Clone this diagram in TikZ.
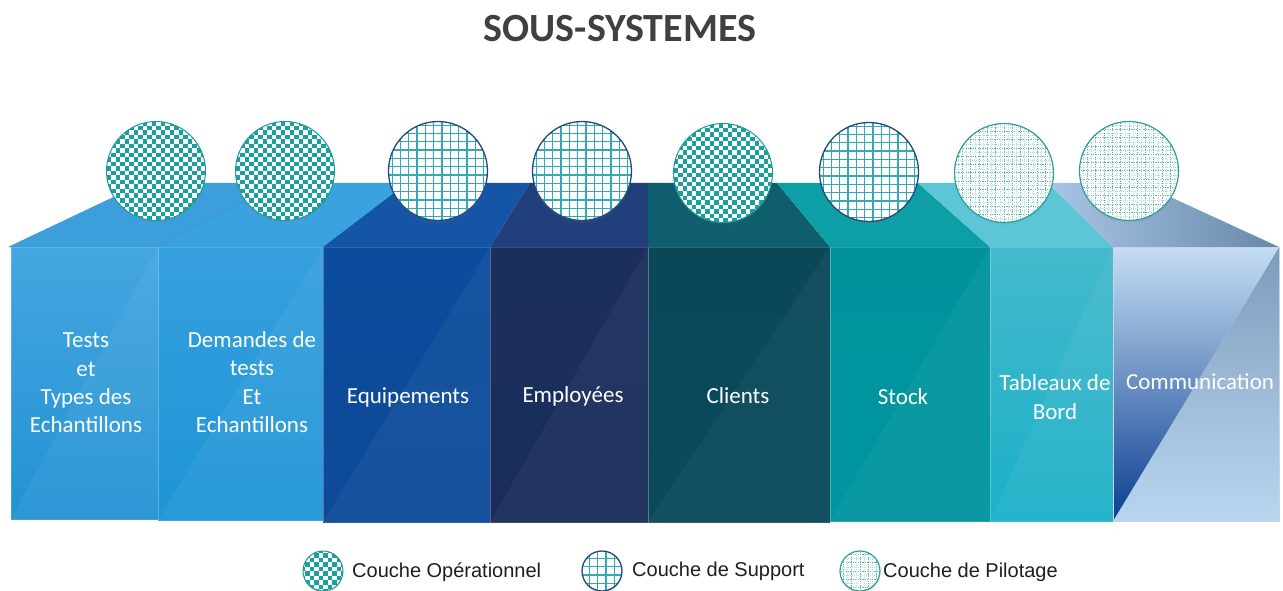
\documentclass[tikz,border=0pt]{standalone}
\usepackage{fontspec}
\newfontfamily\carlito{Carlito}
\newfontfamily\arialf{Liberation Sans}
\usetikzlibrary{shadows}
\definecolor{titlegray}{HTML}{404040}
\definecolor{opcol}{HTML}{1AA19E}
\definecolor{opborder}{HTML}{1F9A96}
\definecolor{supcol}{HTML}{33AAB3}
\definecolor{supborder}{HTML}{24497F}
\definecolor{pilcol}{HTML}{5DB8B5}
\definecolor{pilcolb}{HTML}{B5DEDE}
\definecolor{pilborder}{HTML}{2E9E96}
\definecolor{topA}{HTML}{3C9FDC}
\definecolor{topB}{HTML}{3AA2DE}
\definecolor{topC}{HTML}{1456A5}
\definecolor{topD}{HTML}{213F7B}
\definecolor{topE}{HTML}{0E5E6E}
\definecolor{topF}{HTML}{0E9FA6}
\definecolor{topG}{HTML}{5CC5D6}
\definecolor{topHl}{HTML}{A9C5E8}
\definecolor{topHr}{HTML}{6888A9}
\tikzset{
  circshadow/.style={circular drop shadow={shadow xshift=0pt,shadow yshift=-3pt,shadow scale=1.0,opacity=0.35}},
  opc/.style={circle, inner sep=0pt, minimum size=99pt, fill=white, draw=opborder, line width=1pt, circshadow,
    path picture={
      \foreach \i in {-11,...,10}{\foreach \j in {-11,...,10}{
        \pgfmathtruncatemacro\pq{mod(\i+\j+100,2)}
        \ifnum\pq=0
          \fill[opcol,shift={(path picture bounding box.center)}] (\i*4.5,\j*4.5) rectangle ++(4.5,4.5);
        \fi}}
    }},
  supc/.style={circle, inner sep=0pt, minimum size=99pt, fill=white, draw=supborder, line width=1.3pt, circshadow,
    path picture={
      \foreach \k in {-6,...,6}{
        \draw[supcol, line width=1.3pt] ([shift={(\k*8.3+4,-60)}]path picture bounding box.center) -- ++(0,120);
        \draw[supcol, line width=1.3pt] ([shift={(-60,\k*8.3+4)}]path picture bounding box.center) -- ++(120,0);
      }
    }},
  pilc/.style={circle, inner sep=0pt, minimum size=99pt, fill=white, draw=pilborder, line width=1.2pt, circshadow,
    path picture={
      \foreach \k in {-6,...,6}{
        \draw[pilcolb, line width=0.6pt, dash pattern=on 0.8pt off 1.2pt] ([shift={(\k*8.3+4.15,-60)}]path picture bounding box.center) -- ++(0,120);
        \draw[pilcolb, line width=0.6pt, dash pattern=on 0.8pt off 1.2pt] ([shift={(-60,\k*8.3+4.15)}]path picture bounding box.center) -- ++(120,0);
        \draw[pilcol, line width=1pt, dash pattern=on 1.2pt off 1.2pt] ([shift={(\k*8.3,-60)}]path picture bounding box.center) -- ++(0,120);
        \draw[pilcol, line width=1pt, dash pattern=on 1.2pt off 1.2pt] ([shift={(-60,\k*8.3)}]path picture bounding box.center) -- ++(120,0);
      }
    }},
  lab/.style={text=white, font=\carlito\fontsize{23}{28.3}\selectfont, align=center, inner sep=0pt},
  legtext/.style={anchor=west, inner sep=0pt, text=black!88, font=\arialf\fontsize{20}{24}\selectfont},
  edge/.style={draw=white, draw opacity=0.15, line width=0.8pt},
}
\begin{document}
\begin{tikzpicture}[x=1pt,y=-1pt]
\useasboundingbox (0,0) rectangle (1283,591);
\fill[white] (0,0) rectangle (1283,591);

% ---- top faces ----
\fill[topA] (8,247) -- (158,247) -- (280,183) -- (143,183) -- cycle;
\fill[topB] (158,247) -- (323,247) -- (407,183) -- (280,183) -- cycle;
\draw[topA!80!black, line width=0.6pt, opacity=0.5] (158,247) -- (280,183);
\fill[topC] (323,247) -- (490,247) -- (530,183) -- (407,183) -- cycle;
\fill[topD] (490,247) -- (648,247) -- (648,183) -- (530,183) -- cycle;
\fill[topE] (648,247) -- (830,247) -- (777,183) -- (648,183) -- cycle;
\fill[topF] (830,247) -- (990,247) -- (918,183) -- (777,183) -- cycle;
\fill[topG] (990,247) -- (1113,247) -- (1048,183) -- (918,183) -- cycle;
\shade[left color=topHl, right color=topHr] (1113,247) -- (1279,247) -- (1140,183) -- (1048,183) -- cycle;

% ---- front faces ----
\shade[top color={rgb,255:red,69;green,166;blue,224}, middle color={rgb,255:red,88;green,176;blue,228}, bottom color={rgb,255:red,34;green,146;blue,211}] (11,247) rectangle (158,519);
\shade[top color={rgb,255:red,54;green,160;blue,222}, middle color={rgb,255:red,63;green,163;blue,224}, bottom color={rgb,255:red,30;green,148;blue,214}] (158,247) rectangle (323,520);
\shade[top color={rgb,255:red,11;green,76;blue,156}, middle color={rgb,255:red,21;green,88;blue,168}, bottom color={rgb,255:red,14;green,74;blue,152}] (323,247) rectangle (490,522);
\shade[top color={rgb,255:red,27;green,47;blue,94}, middle color={rgb,255:red,34;green,56;blue,106}, bottom color={rgb,255:red,26;green,45;blue,90}] (490,247) rectangle (648,522);
\shade[top color={rgb,255:red,10;green,72;blue,88}, middle color={rgb,255:red,15;green,86;blue,102}, bottom color={rgb,255:red,10;green,74;blue,90}] (648,247) rectangle (830,522);
\shade[top color={rgb,255:red,0;green,147;blue,156}, middle color={rgb,255:red,10;green,155;blue,163}, bottom color={rgb,255:red,0;green,149;blue,160}] (830,247) rectangle (990,521);
\shade[top color={rgb,255:red,69;green,185;blue,204}, middle color={rgb,255:red,86;green,192;blue,210}, bottom color={rgb,255:red,27;green,176;blue,200}] (990,247) rectangle (1113,521);
% diagonal glass effect
\foreach \a/\b/\bot/\op in {11/158/519/0.05, 158/323/520/0.05, 323/490/522/0.04, 490/648/522/0.035, 648/830/522/0.035, 830/990/521/0.04, 990/1113/521/0.05}{
  \fill[white, opacity=\op] (\a,\bot) -- (\b,247) -- (\b,\bot) -- cycle;
  \draw[edge] (\a,247) rectangle (\b,\bot);
}
% box 8
\shade[top color={rgb,255:red,126;green,155;blue,189}, bottom color={rgb,255:red,185;green,214;blue,240}] (1113,521) -- (1279,247) -- (1279,521) -- cycle;
\shade[top color={rgb,255:red,198;green,222;blue,243}, middle color={rgb,255:red,90;green,135;blue,200}, bottom color={rgb,255:red,11;green,62;blue,145}] (1113,247) -- (1279,247) -- (1113,521) -- cycle;
\draw[draw={rgb,255:red,200;green,211;blue,222}, line width=0.8pt] (1113,247) rectangle (1279,521);

% ---- circles ----
\node[opc] (c1) at (156,171) {};
\node[opc] (c2) at (285,171) {};
\node[supc] (c3) at (438,171) {};
\node[supc] (c4) at (582,171) {};
\node[opc] (c5) at (723,173) {};
\node[supc] (c6) at (869,172) {};
\node[pilc] (c7) at (1004,173) {};
\node[pilc] (c8) at (1129,171) {};

% ---- labels ----
\node[lab] (t1) at (86,383) {Tests\\et\\Types des\\Echantillons};
\node[lab] (t2) at (252,382) {Demandes de\\tests\\Et\\Echantillons};
\node[lab] (t3) at (408,397) {Equipements};
\node[lab] (t4) at (573,396) {Employées};
\node[lab] (t5) at (738,396) {Clients};
\node[lab] (t6) at (903,397) {Stock};
\node[lab] (t7) at (1055,397) {Tableaux de\\Bord};
\node[lab] (t8) at (1200,382) {Communication};

% ---- title ----
\node[font=\carlito\bfseries\fontsize{40}{48}\selectfont, text=titlegray, inner sep=0pt] (title) at (620,29) {SOUS-SYSTEMES};

% ---- legend ----
\node[opc, minimum size=40pt] (l1) at (323,571) {};
\node[legtext] (lt1) at (352,572) {Couche Opérationnel};
\node[supc, minimum size=40pt] (l2) at (602,571) {};
\node[legtext] (lt2) at (632,571) {Couche de Support};
\node[pilc, minimum size=40pt] (l3) at (860,571) {};
\node[legtext] (lt3) at (883,572) {Couche de Pilotage};
\end{tikzpicture}
\end{document}
